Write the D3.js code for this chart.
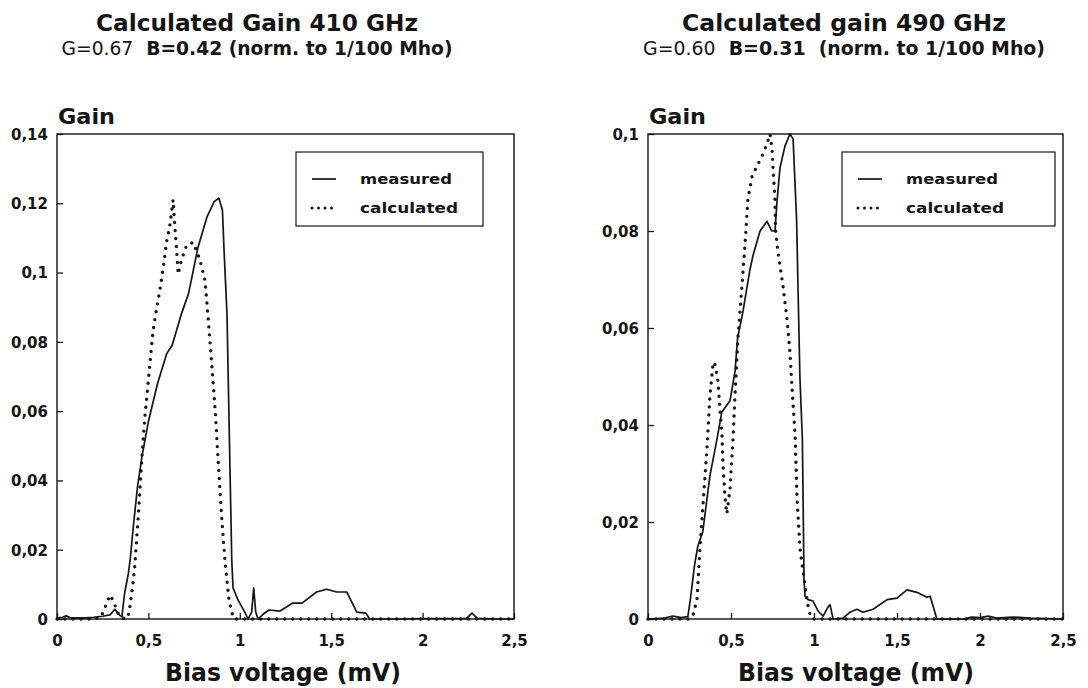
<!DOCTYPE html>
<html><head><meta charset="utf-8">
<script src="https://cdn.jsdelivr.net/npm/d3@7"></script>
<style>
html,body{margin:0;padding:0;background:#fff;}
svg{display:block;font-family:"DejaVu Sans",sans-serif;font-weight:bold;}
</style></head><body>
<svg id="chart" width="1088" height="688"></svg>
<script>
// ---------- data ----------
const xTicks = [0, 0.5, 1, 1.5, 2, 2.5];
const xTickLabels = ["0", "0,5", "1", "1,5", "2", "2,5"];
const yTicks410 = [0, 0.02, 0.04, 0.06, 0.08, 0.1, 0.12, 0.14];
const yTickLabels410 = ["0", "0,02", "0,04", "0,06", "0,08", "0,1", "0,12", "0,14"];
const yTicks490 = [0, 0.02, 0.04, 0.06, 0.08, 0.1];
const yTickLabels490 = ["0", "0,02", "0,04", "0,06", "0,08", "0,1"];
const seriesNames = ["measured", "calculated"];

// [bias voltage mV, gain]
const measured410 = [[0,0.0003],[0.03,0.0005],[0.05,0.0009],[0.07,0.0004],[0.1,0.0003],[0.15,0.0003],[0.2,0.0005],[0.25,0.0008],[0.29,0.0012],[0.317,0.0028],[0.34,0.0012],[0.355,0.0006],[0.37,0.0075],[0.39,0.013],[0.40,0.017],[0.42,0.028],[0.44,0.038],[0.465,0.047],[0.50,0.057],[0.55,0.068],[0.60,0.0766],[0.63,0.079],[0.68,0.088],[0.72,0.094],[0.77,0.107],[0.82,0.116],[0.86,0.1205],[0.885,0.1215],[0.905,0.118],[0.915,0.105],[0.93,0.088],[0.945,0.047],[0.956,0.017],[0.963,0.009],[0.99,0.0055],[1.03,0.0017],[1.045,0],[1.065,0.002],[1.076,0.009],[1.087,0.002],[1.1,0],[1.13,0.0015],[1.16,0.0026],[1.22,0.0023],[1.29,0.0046],[1.34,0.0046],[1.42,0.0078],[1.475,0.0086],[1.53,0.0078],[1.585,0.0078],[1.64,0.002],[1.69,0.0017],[1.71,0],[1.9,0],[2.0,0.0001],[2.24,0.0002],[2.27,0.0017],[2.30,0.0002],[2.4,0],[2.5,0]];
const calculated410 = [[0,0],[0.2,0],[0.24,0.0005],[0.26,0.003],[0.29,0.0069],[0.31,0.005],[0.33,0.002],[0.35,0.0004],[0.38,0],[0.39,0.001],[0.40,0.004],[0.415,0.010],[0.425,0.015],[0.445,0.03],[0.465,0.047],[0.48,0.058],[0.50,0.069],[0.525,0.083],[0.546,0.09],[0.563,0.095],[0.58,0.101],[0.60,0.109],[0.617,0.1135],[0.628,0.118],[0.635,0.121],[0.645,0.113],[0.655,0.106],[0.663,0.0995],[0.68,0.1035],[0.71,0.108],[0.745,0.1087],[0.78,0.104],[0.81,0.0977],[0.825,0.088],[0.84,0.078],[0.853,0.069],[0.867,0.059],[0.88,0.047],[0.90,0.03],[0.92,0.016],[0.94,0.006],[0.955,0.002],[0.97,0],[2.5,0]];
const measured490 = [[0,0],[0.1,0.0002],[0.15,0.0006],[0.2,0.0003],[0.24,0.0005],[0.255,0.004],[0.28,0.011],[0.30,0.015],[0.33,0.018],[0.373,0.0295],[0.415,0.037],[0.445,0.0427],[0.494,0.045],[0.524,0.051],[0.54,0.058],[0.57,0.063],[0.614,0.072],[0.633,0.075],[0.675,0.080],[0.717,0.082],[0.745,0.080],[0.765,0.080],[0.777,0.086],[0.795,0.093],[0.825,0.0975],[0.855,0.1],[0.874,0.099],[0.895,0.0825],[0.915,0.05],[0.93,0.037],[0.94,0.008],[0.946,0.0047],[0.964,0.004],[0.994,0.0037],[1.025,0.0016],[1.055,0.0006],[1.085,0.0025],[1.097,0.0029],[1.115,0],[1.175,0.0002],[1.217,0.0014],[1.258,0.002],[1.295,0.0014],[1.356,0.002],[1.44,0.004],[1.5,0.0043],[1.56,0.006],[1.62,0.0055],[1.68,0.0045],[1.70,0.0047],[1.74,0],[1.9,0],[1.95,0.0004],[2.0,0.0003],[2.05,0.0006],[2.1,0.0002],[2.2,0.0004],[2.3,0.0002],[2.4,0.0001],[2.5,0]];
const calculated490 = [[0,0],[0.25,0],[0.27,0.0006],[0.295,0.004],[0.313,0.0145],[0.33,0.023],[0.355,0.035],[0.373,0.046],[0.39,0.052],[0.40,0.053],[0.42,0.0495],[0.434,0.043],[0.445,0.0385],[0.452,0.0316],[0.464,0.025],[0.475,0.0217],[0.494,0.0268],[0.512,0.037],[0.524,0.046],[0.542,0.058],[0.566,0.0687],[0.584,0.077],[0.602,0.0866],[0.627,0.0913],[0.657,0.0934],[0.687,0.0955],[0.717,0.098],[0.735,0.100],[0.747,0.097],[0.753,0.093],[0.765,0.0866],[0.768,0.0804],[0.783,0.0757],[0.813,0.0687],[0.837,0.062],[0.855,0.055],[0.873,0.0447],[0.886,0.038],[0.898,0.0247],[0.916,0.0144],[0.946,0.0068],[0.964,0.0027],[0.976,0.001],[0.99,0],[2.5,0]];

// ---------- layout ----------
const ink = "#151515";
const panels = [
  { title: "Calculated Gain 410 GHz", titleW: 322, subG: "G=0.67", subRest: "  B=0.42 (norm. to 1/100 Mho)", subW: 391, cx: 257,
    left: 57, right: 514, top: 134, bottom: 619, yMax: 0.14, yTicks: yTicks410, yLabels: yTickLabels410,
    measured: measured410, calculated: calculated410,
    legend: { x: 296, y: 152, w: 187, h: 74 }, xTitleCx: 283 },
  { title: "Calculated gain 490 GHz", titleW: 324, subG: "G=0.60", subRest: "  B=0.31  (norm. to 1/100 Mho)", subW: 402, cx: 844,
    left: 648, right: 1063, top: 134, bottom: 619, yMax: 0.1, yTicks: yTicks490, yLabels: yTickLabels490,
    measured: measured490, calculated: calculated490,
    legend: { x: 842, y: 152, w: 213, h: 74 }, xTitleCx: 856 }
];

const svg = d3.select("#chart");

panels.forEach(p => {
  const g = svg.append("g");
  const x = d3.scaleLinear().domain([0, 2.5]).range([p.left, p.right]);
  const y = d3.scaleLinear().domain([0, p.yMax]).range([p.bottom, p.top]);

  // titles
  g.append("text").attr("x", p.cx).attr("y", 31).attr("text-anchor", "middle")
    .attr("font-size", 23).attr("textLength", p.titleW).attr("lengthAdjust", "spacingAndGlyphs")
    .attr("fill", ink).text(p.title);
  const st = g.append("text").attr("x", p.cx).attr("y", 55).attr("text-anchor", "middle")
    .attr("font-size", 19.5).attr("textLength", p.subW).attr("lengthAdjust", "spacingAndGlyphs")
    .attr("fill", ink).attr("xml:space", "preserve");
  st.append("tspan").attr("font-weight", "normal").text(p.subG);
  st.append("tspan").text(p.subRest);

  // Gain label
  g.append("text").attr("x", p.left + 1).attr("y", 124).attr("font-size", 22)
    .attr("textLength", 57).attr("lengthAdjust", "spacingAndGlyphs").attr("fill", ink).text("Gain");

  // axes
  const yAxis = d3.axisLeft(y).tickValues(p.yTicks).tickFormat((d, i) => p.yLabels[i])
    .tickSizeInner(-6).tickSizeOuter(0).tickPadding(9);
  const ya = g.append("g").attr("transform", `translate(${p.left},0)`).call(yAxis);
  const xAxis = d3.axisBottom(x).tickValues(xTicks).tickFormat((d, i) => xTickLabels[i])
    .tickSizeInner(-6).tickSizeOuter(0).tickPadding(16);
  const xa = g.append("g").attr("transform", `translate(0,${p.bottom})`).call(xAxis);
  [ya, xa].forEach(a => {
    a.select(".domain").remove();
    a.selectAll(".tick line").attr("stroke", ink).attr("stroke-width", 1.3);
    a.selectAll(".tick text").attr("font-size", 15).attr("font-family", "DejaVu Sans")
      .attr("font-weight", "bold").attr("fill", ink);
  });
  ya.selectAll(".tick text").attr("dy", "0.36em");

  // frame
  g.append("rect").attr("x", p.left).attr("y", p.top).attr("width", p.right - p.left)
    .attr("height", p.bottom - p.top).attr("fill", "none").attr("stroke", ink).attr("stroke-width", 1.4);

  // x title
  g.append("text").attr("x", p.xTitleCx).attr("y", 681).attr("text-anchor", "middle")
    .attr("font-size", 24).attr("textLength", 236).attr("lengthAdjust", "spacingAndGlyphs")
    .attr("fill", ink).text("Bias voltage (mV)");

  // curves
  const line = d3.line().x(d => x(d[0])).y(d => y(d[1]));
  g.append("path").datum(p.measured).attr("d", line).attr("fill", "none")
    .attr("stroke", ink).attr("stroke-width", 1.7).attr("stroke-linejoin", "round");
  g.append("path").datum(p.calculated).attr("d", line).attr("fill", "none")
    .attr("stroke", ink).attr("stroke-width", 3.4).attr("stroke-linecap", "round")
    .attr("stroke-dasharray", "0 8");

  // legend
  const L = p.legend;
  g.append("rect").attr("x", L.x).attr("y", L.y).attr("width", L.w).attr("height", L.h)
    .attr("fill", "#fff").attr("stroke", ink).attr("stroke-width", 1.2);
  const rows = [L.y + 27, L.y + 56];
  g.append("line").attr("x1", L.x + 16).attr("x2", L.x + 40).attr("y1", rows[0]).attr("y2", rows[0])
    .attr("stroke", ink).attr("stroke-width", 1.7);
  g.append("line").attr("x1", L.x + 16).attr("x2", L.x + 42).attr("y1", rows[1]).attr("y2", rows[1])
    .attr("stroke", ink).attr("stroke-width", 3).attr("stroke-linecap", "round").attr("stroke-dasharray", "0 6.5");
  seriesNames.forEach((n, i) => {
    g.append("text").attr("x", L.x + 64).attr("y", rows[i] + 5).attr("font-size", 14)
      .attr("textLength", i === 0 ? 92 : 98).attr("lengthAdjust", "spacingAndGlyphs")
      .attr("fill", ink).text(n);
  });
});
</script>
</body></html>
